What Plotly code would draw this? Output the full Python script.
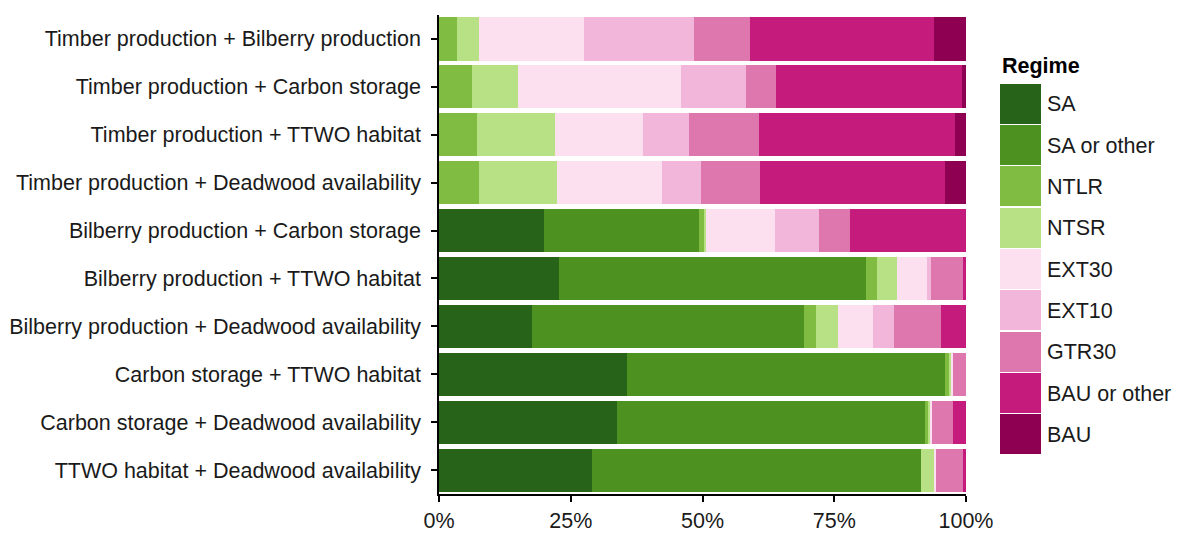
import plotly.graph_objects as go

categories = [
    "Timber production + Bilberry production",
    "Timber production + Carbon storage",
    "Timber production + TTWO habitat",
    "Timber production + Deadwood availability",
    "Bilberry production + Carbon storage",
    "Bilberry production + TTWO habitat",
    "Bilberry production + Deadwood availability",
    "Carbon storage + TTWO habitat",
    "Carbon storage + Deadwood availability",
    "TTWO habitat + Deadwood availability",
]

regimes = ["SA", "SA or other", "NTLR", "NTSR", "EXT30", "EXT10", "GTR30", "BAU or other", "BAU"]
colors = ["#276419", "#4d9221", "#7fbc41", "#b8e186", "#fde0ef", "#f1b6da", "#de77ae", "#c51b7d", "#8e0152"]

# percentages per regime, in category order
sa          = [0.0, 0.0, 0.0, 0.0, 20.0, 22.7, 17.7, 35.7, 33.7, 29.0]
sa_other    = [0.0, 0.0, 0.0, 0.0, 29.3, 58.3, 51.6, 60.4, 58.6, 62.4]
ntlr        = [3.5, 6.3, 7.2, 7.6, 1.1, 2.2, 2.2, 0.7, 0.6, 0.0]
ntsr        = [4.1, 8.7, 14.9, 14.7, 0.3, 3.7, 4.3, 0.4, 0.3, 2.6]
ext30       = [20.0, 30.9, 16.6, 20.1, 13.0, 5.7, 6.6, 0.4, 0.3, 0.3]
ext10       = [20.7, 12.4, 8.7, 7.3, 8.4, 0.8, 3.9, 0.0, 0.0, 0.0]
gtr30       = [10.8, 5.6, 13.4, 11.3, 5.9, 6.0, 9.0, 2.4, 4.1, 5.2]
bau_other   = [34.9, 35.4, 37.2, 35.1, 22.0, 0.6, 4.7, 0.0, 2.4, 0.5]
bau         = [6.0, 0.7, 2.0, 3.9, 0.0, 0.0, 0.0, 0.0, 0.0, 0.0]

series = [sa, sa_other, ntlr, ntsr, ext30, ext10, gtr30, bau_other, bau]

xticks = [0, 25, 50, 75, 100]
xticklabels = ["0%", "25%", "50%", "75%", "100%"]

FONT = "Liberation Sans, Arial, sans-serif"
TXT = "#1a1a1a"
FS = 21.5

fig = go.Figure()
for name, vals, col in zip(regimes, series, colors):
    fig.add_trace(go.Bar(
        y=categories, x=vals, name=name, orientation="h",
        marker=dict(color=col, line=dict(width=0)),
        showlegend=False, xaxis="x", yaxis="y",
    ))

# legend drawn as a stacked key on a second axis pair
fig.add_trace(go.Bar(
    y=regimes, x=[1] * len(regimes), orientation="h", width=0.97,
    marker=dict(color=colors, line=dict(width=0)),
    showlegend=False, xaxis="x2", yaxis="y2", hoverinfo="skip",
))

# page has an 8px body margin; work in figure coordinates
OFF = 8
W, H = 1180 - OFF, 537 - OFF
ml = 439 - OFF
main_right = 966 - OFF
leg_l, leg_r = 1000 - OFF, 1041 - OFF
mr = W - leg_r
mt = 15 - OFF
mb = H - (494 - OFF)
pw = W - ml - mr
ph = H - mt - mb
main_end = (main_right - ml) / pw
leg_start = (leg_l - ml) / pw
plot_bottom = H - mb
leg_top = (plot_bottom - (83 - OFF)) / ph
leg_bot = (plot_bottom - (455 - OFF)) / ph
title_y = (plot_bottom - (66 - OFF)) / ph

fig.update_layout(
    width=W, height=H,
    margin=dict(l=ml, r=mr, t=mt, b=mb, autoexpand=False),
    barmode="stack", bargap=0.1,
    plot_bgcolor="white", paper_bgcolor="white",
    font=dict(family=FONT, size=FS, color=TXT),
    xaxis=dict(
        domain=[0, main_end], range=[0, 100], tickvals=xticks, ticktext=xticklabels,
        showgrid=False, zeroline=False, showline=True, linecolor="black", linewidth=1.5,
        ticks="outside", ticklen=6, tickwidth=1.5, tickcolor="black",
        tickfont=dict(size=FS, color=TXT), automargin=False,
    ),
    yaxis=dict(
        domain=[0, 1], categoryorder="array", categoryarray=categories,
        range=[len(categories) - 0.5, -0.5],
        showgrid=False, zeroline=False, showline=True, linecolor="black", linewidth=1.5,
        ticks="outside", ticklen=6, tickwidth=1.5, tickcolor="black",
        tickfont=dict(size=FS, color=TXT), automargin=False, ticklabelstandoff=6,
    ),
    xaxis2=dict(domain=[leg_start, 1], range=[0, 1], visible=False, anchor="y2"),
    yaxis2=dict(
        domain=[leg_bot, leg_top], anchor="x2", side="right",
        categoryorder="array", categoryarray=regimes,
        range=[len(regimes) - 0.5, -0.5],
        showgrid=False, zeroline=False, showline=False, ticks="",
        tickfont=dict(size=FS, color=TXT), automargin=False, ticklabelstandoff=5,
    ),
    annotations=[dict(
        text="<b>Regime</b>", xref="paper", yref="paper",
        x=leg_start, y=title_y, xanchor="left", yanchor="middle",
        showarrow=False, font=dict(size=FS, color="black"),
    )],
)
fig.write_html("out.html")
